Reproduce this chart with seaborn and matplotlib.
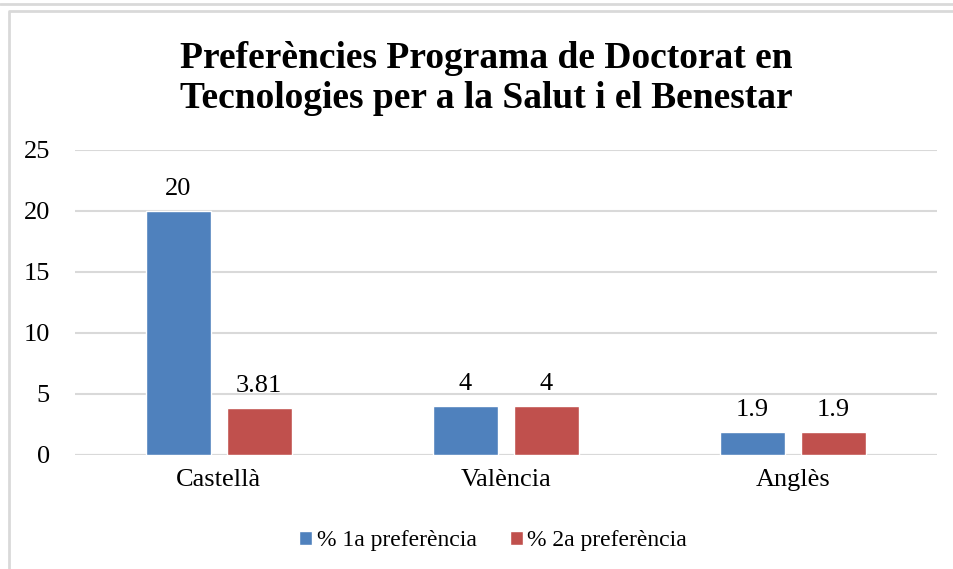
import matplotlib.pyplot as plt
import matplotlib.lines as mlines
import seaborn as sns
import pandas as pd

idiomes = ['Castellà', 'València', 'Anglès']
series = ['% 1a preferència', '% 2a preferència']
pref1 = [20, 4, 1.9]
pref2 = [3.81, 4, 1.9]
etiquetes1 = ['20', '4', '1.9']
etiquetes2 = ['3.81', '4', '1.9']
yticks = [0, 5, 10, 15, 20, 25]

df = pd.DataFrame({
    'idioma': idiomes * 2,
    'serie': [series[0]] * 3 + [series[1]] * 3,
    'valor': pref1 + pref2,
})

sns.set_style('white')
plt.rcParams['font.family'] = ['Liberation Serif', 'DejaVu Serif']
plt.rcParams['text.color'] = 'black'
plt.rcParams['xtick.color'] = 'black'
plt.rcParams['ytick.color'] = 'black'

fig = plt.figure(figsize=(9.54, 5.69), dpi=100)
ax = fig.add_axes([0.0786, 0.2004, 0.9034, 0.536])

sns.barplot(data=df, x='idioma', y='valor', hue='serie',
            palette=['#4F81BD', '#C0504D'], width=0.564, gap=0.198,
            saturation=1, ax=ax, legend=True)

for cont, labs in zip(ax.containers, [etiquetes1, etiquetes2]):
    ax.bar_label(cont, labels=labs, padding=8, fontsize=19, color='black')

ax.set_xlim(-0.5, 2.5)
ax.set_ylim(0, 25)
ax.set_yticks(yticks)
ax.yaxis.grid(True, color='#D9D9D9', linewidth=1.5)
ax.set_axisbelow(True)
for s in ax.spines.values():
    s.set_visible(False)
ax.axhline(0, color='#D9D9D9', linewidth=1.5, zorder=0)
ax.set_xlabel('')
ax.set_ylabel('')
ax.tick_params(axis='y', labelsize=19, pad=18, length=0)
ax.tick_params(axis='x', labelsize=19, pad=10, length=0)

ax.legend(loc='upper center', bbox_to_anchor=(0.485, -0.215), ncol=2,
          frameon=False, fontsize=17, handlelength=0.55, handleheight=0.55,
          handletextpad=0.2, columnspacing=1.4, borderaxespad=0)

fig.text(0.51, 0.862, 'Preferències Programa de Doctorat en\nTecnologies per a la Salut i el Benestar',
         ha='center', va='center', fontsize=27, fontweight='bold', linespacing=1.22)

# marc del gràfic
fig.add_artist(mlines.Line2D([0, 1], [1 - 4 / 569, 1 - 4 / 569], color='#D9D9D9', linewidth=2))
fig.add_artist(mlines.Line2D([9 / 954, 9 / 954, 1], [0, 1 - 11 / 569, 1 - 11 / 569],
                             color='#D9D9D9', linewidth=2))

fig.savefig('out.png', dpi=100)
